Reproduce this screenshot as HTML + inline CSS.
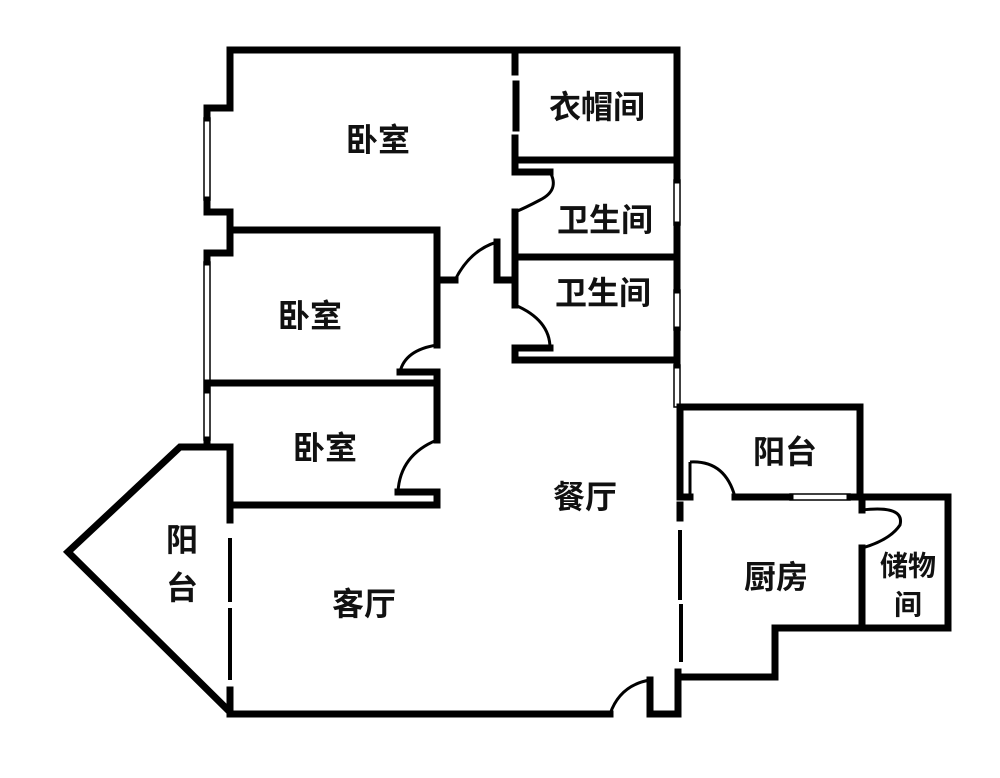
<!DOCTYPE html>
<html><head><meta charset="utf-8"><style>
html,body{margin:0;padding:0;background:#fff;}
svg{display:block}
text{font-family:"Liberation Sans","Noto Sans CJK SC",sans-serif;font-size:32px;font-weight:bold;fill:#111;text-anchor:middle;dominant-baseline:central}
</style></head><body>
<svg width="1000" height="778" viewBox="0 0 1000 778" xmlns="http://www.w3.org/2000/svg">
<g fill="none" stroke="#000" stroke-width="7" stroke-linejoin="miter" stroke-linecap="square">
<polyline points="230,108 230,50 677,50 677,180"/>
<polyline points="230,108 207,108"/>
<polyline points="207,212 230,212 230,253 207,253"/>
<line x1="207" y1="108" x2="207" y2="118"/>
<line x1="207" y1="200" x2="207" y2="212"/>
<line x1="207" y1="253" x2="207" y2="262"/>
<line x1="515" y1="50" x2="515" y2="72"/>
<line x1="516" y1="84" x2="516" y2="128"/>
<line x1="515" y1="138" x2="515" y2="172"/>
<line x1="515" y1="160" x2="677" y2="160"/>
<line x1="515" y1="172" x2="550" y2="172"/>
<line x1="515" y1="212" x2="515" y2="305"/>
<line x1="515" y1="257" x2="677" y2="257"/>
<line x1="515" y1="360" x2="677" y2="360"/>
<line x1="515" y1="348" x2="550" y2="348"/>
<line x1="515" y1="348" x2="515" y2="360"/>
<line x1="677" y1="225" x2="677" y2="290"/>
<line x1="677" y1="330" x2="677" y2="365"/>
<polyline points="230,230 437,230 437,280 455,280"/>
<polyline points="497,242 497,280 513,280"/>
<polyline points="437,280 437,345"/>
<line x1="400" y1="372" x2="437" y2="372"/>
<line x1="437" y1="372" x2="437" y2="440"/>
<line x1="207" y1="383" x2="437" y2="383"/>
<line x1="398" y1="492" x2="437" y2="492"/>
<line x1="437" y1="492" x2="437" y2="505"/>
<line x1="230" y1="505" x2="437" y2="505"/>
<line x1="230" y1="447" x2="230" y2="505"/>
<line x1="207" y1="383" x2="207" y2="390"/>
<line x1="207" y1="440" x2="207" y2="447"/>
<polyline points="230,447 180,447 68,552 230,712"/>
<line x1="230" y1="505" x2="230" y2="520"/>
<line x1="230" y1="540" x2="230" y2="600" stroke-width="4"/>
<line x1="230" y1="610" x2="230" y2="678" stroke-width="4"/>
<line x1="230" y1="690" x2="230" y2="714"/>
<line x1="230" y1="714" x2="610" y2="714"/>
<polyline points="650,680 650,714 678,714 678,672"/>
<line x1="680" y1="407" x2="680" y2="497"/>
<line x1="680" y1="497" x2="690" y2="497"/>
<line x1="680" y1="505" x2="680" y2="518"/>
<line x1="680" y1="532" x2="680" y2="598" stroke-width="4"/>
<line x1="681" y1="606" x2="681" y2="660" stroke-width="4"/>
<polyline points="680,407 860,407 860,497 948,497 948,628 862,628 862,548"/>
<line x1="735" y1="497" x2="790" y2="497"/>
<line x1="850" y1="497" x2="860" y2="497"/>
<line x1="862" y1="497" x2="862" y2="510"/>
<polyline points="680,677 775,677 775,628 862,628"/>
</g>
<g fill="none" stroke="#000" stroke-width="1.5">
<rect x="204" y="118" width="6" height="82"/>
<rect x="204" y="262" width="6" height="178"/>
<rect x="674" y="180" width="6" height="45"/>
<rect x="674" y="290" width="6" height="40"/>
<rect x="674" y="365" width="6" height="42"/>
<rect x="790" y="494" width="60" height="6"/>
</g>
<g fill="none" stroke="#000" stroke-width="3">
<path d="M550,172 Q560,190 540,200 Q525,208 515,212"/>
<path d="M455,280 Q470,250 497,242"/>
<path d="M515,305 Q550,320 550,348"/>
<path d="M437,345 Q405,350 400,372"/>
<path d="M437,440 Q400,455 398,492"/>
<path d="M610,714 Q620,685 650,680"/>
<path d="M690,462 Q725,460 735,497"/>
<path d="M690,462 L690,497"/>
<path d="M862,510 Q905,505 900,525 Q890,540 862,548"/>
</g>
<text x="378" y="140">卧室</text>
<text x="597" y="107">衣帽间</text>
<text x="605" y="220">卫生间</text>
<text x="603" y="293">卫生间</text>
<text x="310" y="316">卧室</text>
<text x="325" y="448">卧室</text>
<text x="585" y="497">餐厅</text>
<text x="785" y="452">阳台</text>
<text x="776" y="577">厨房</text>
<text x="908" y="566" style="font-size:28px">储物</text>
<text x="908" y="605" style="font-size:28px">间</text>
<text x="182" y="540">阳</text>
<text x="182" y="588">台</text>
<text x="364" y="604">客厅</text>
</svg>
</body></html>
